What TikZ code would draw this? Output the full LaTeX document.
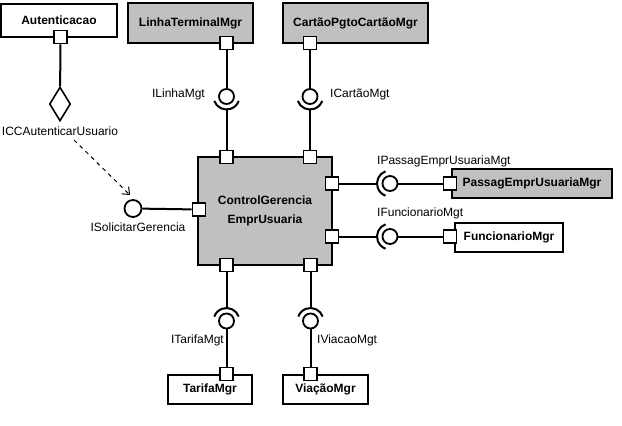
\documentclass[tikz,border=0pt]{standalone}
\usepackage{xcolor}
\usepackage{fontspec}
\setmainfont{Liberation Sans}
\usepackage{tikz}
\usetikzlibrary{calc,arrows.meta,shapes.geometric}
\definecolor{compgrey}{HTML}{C0C0C0}

\begin{document}
\begin{tikzpicture}[x=1pt,y=1pt,
	        comp/.style={draw,line width=2pt,inner sep=0pt,font=\fontsize{12}{19}\selectfont\bfseries,align=center},
	        greycomp/.style={comp,fill=compgrey},
	        port/.style={draw,fill=white,line width=1.8pt,minimum size=13pt,inner sep=0pt},
	        ball/.style={draw,fill=white,circle,line width=1.8pt,minimum size=15pt,inner sep=0pt},
	        wire/.style={line width=2pt},
	        lbl/.style={inner sep=0pt,font=\fontsize{12}{14}\selectfont}]
	        \useasboundingbox (0,0) rectangle (622,-426);
	        % components
	        \node[comp,minimum width=116pt,minimum height=33pt] (Autent) at (59,-20.5) {Autenticacao};
	        \node[greycomp,minimum width=125pt,minimum height=40pt] (Linha) at (190.5,-23) {LinhaTerminalMgr};
	        \node[greycomp,minimum width=145pt,minimum height=40pt] (Cartao) at (355.5,-23) {CartãoPgtoCartãoMgr};
	        \node[greycomp,minimum width=134pt,minimum height=108pt] (Control) at (265,-211) {ControlGerencia\\EmprUsuaria};
	        \node[greycomp,minimum width=160pt,minimum height=29pt] (Passag) at (532,-183.5) {PassagEmprUsuariaMgr};
	        \node[comp,minimum width=108pt,minimum height=29pt] (Func) at (509,-237.5) {FuncionarioMgr};
	        \node[comp,minimum width=84pt,minimum height=29pt] (Tarifa) at (210,-389.5) {TarifaMgr};
	        \node[comp,minimum width=85pt,minimum height=29pt] (Viacao) at (325.5,-389.5) {ViaçãoMgr};
	        % ports
	        \node[port] (pAut) at (60.5,-37) {};
	        \node[port] (pLinha) at (226.5,-43) {};
	        \node[port] (pCartao) at (310,-43) {};
	        \node[port] (pTopL) at (226.5,-157) {};
	        \node[port] (pTopR) at (310,-157) {};
	        \node[port] (pLeft) at (199,-209.5) {};
	        \node[port] (pRightA) at (332,-183.5) {};
	        \node[port] (pRightB) at (332,-236.5) {};
	        \node[port] (pBotL) at (226.5,-265) {};
	        \node[port] (pBotR) at (310.5,-265) {};
	        \node[port] (pPassag) at (450,-183.5) {};
	        \node[port] (pFunc) at (450,-236.5) {};
	        \node[port] (pTarifa) at (226.5,-374) {};
	        \node[port] (pViacao) at (310.5,-374) {};
	        % provided interfaces (balls)
	        \node[ball,minimum size=17pt] (bSolic) at (133,-208.5) {};
	        \node[ball] (bLinha) at (226.5,-96.5) {};
	        \node[ball] (bCartao) at (310,-96.5) {};
	        \node[ball] (bPassag) at (390,-183.5) {};
	        \node[ball] (bFunc) at (390,-236.5) {};
	        \node[ball] (bTarifa) at (226.5,-321) {};
	        \node[ball] (bViacao) at (310.5,-321) {};
	        \node[diamond,draw,fill=white,line width=1.6pt,inner sep=0pt,minimum width=21pt,minimum height=34pt] (dAut) at (60,-104) {};
	        % required interfaces (sockets)
	        \draw[wire] ([shift={(200:13)}]bLinha.center) arc[start angle=200,end angle=340,radius=13pt];
	        \draw[wire] ([shift={(200:13)}]bCartao.center) arc[start angle=200,end angle=340,radius=13pt];
	        \draw[wire] ([shift={(110:13)}]bPassag.center) arc[start angle=110,end angle=250,radius=13pt];
	        \draw[wire] ([shift={(110:13)}]bFunc.center) arc[start angle=110,end angle=250,radius=13pt];
	        \draw[wire] ([shift={(20:13)}]bTarifa.center) arc[start angle=20,end angle=160,radius=13pt];
	        \draw[wire] ([shift={(20:13)}]bViacao.center) arc[start angle=20,end angle=160,radius=13pt];
	        \coordinate (sLinha) at ([yshift=-13pt]bLinha.center);
	        \coordinate (sCartao) at ([yshift=-13pt]bCartao.center);
	        \coordinate (sPassag) at ([xshift=-13pt]bPassag.center);
	        \coordinate (sFunc) at ([xshift=-13pt]bFunc.center);
	        \coordinate (sTarifa) at ([yshift=13pt]bTarifa.center);
	        \coordinate (sViacao) at ([yshift=13pt]bViacao.center);
	        % connectors
	        \draw[wire] (pAut) -- (dAut);
	        \draw[wire] (bSolic) -- (pLeft);
	        \draw[wire] (pLinha) -- (bLinha); \draw[wire] (sLinha) -- (pTopL);
	        \draw[wire] (pCartao) -- (bCartao); \draw[wire] (sCartao) -- (pTopR);
	        \draw[wire] (pRightA) -- (sPassag); \draw[wire] (bPassag) -- (pPassag);
	        \draw[wire] (pRightB) -- (sFunc); \draw[wire] (bFunc) -- (pFunc);
	        \draw[wire] (pBotL) -- (sTarifa); \draw[wire] (bTarifa) -- (pTarifa);
	        \draw[wire] (pBotR) -- (sViacao); \draw[wire] (bViacao) -- (pViacao);
	        \coordinate (dashA) at (74,-140);
	        \coordinate (dashB) at (130,-195);
	        \draw[line width=1pt,dash pattern=on 4pt off 4pt,-{Straight Barb[length=6pt,width=10pt]}] (dashA) -- (dashB); % dependency
	        % interface names
	        \node[lbl] (lICC) at (60,-131) {ICCAutenticarUsuario};
	        \node[lbl] (lSolic) at (138,-227) {ISolicitarGerencia};
	        \node[lbl,anchor=east] (lLinha) at (205,-94.5) {ILinhaMgt};
	        \node[lbl,anchor=west] (lCartao) at (330,-94.5) {ICartãoMgt};
	        \node[lbl,anchor=west] (lPassag) at (377,-161) {IPassagEmprUsuariaMgt};
	        \node[lbl,anchor=west] (lFunc) at (377,-213.5) {IFuncionarioMgt};
	        \node[lbl,anchor=east] (lTarifa) at (224,-340) {ITarifaMgt};
	        \node[lbl,anchor=west] (lViacao) at (317,-340) {IViacaoMgt};
	    \end{tikzpicture}
\end{document}
